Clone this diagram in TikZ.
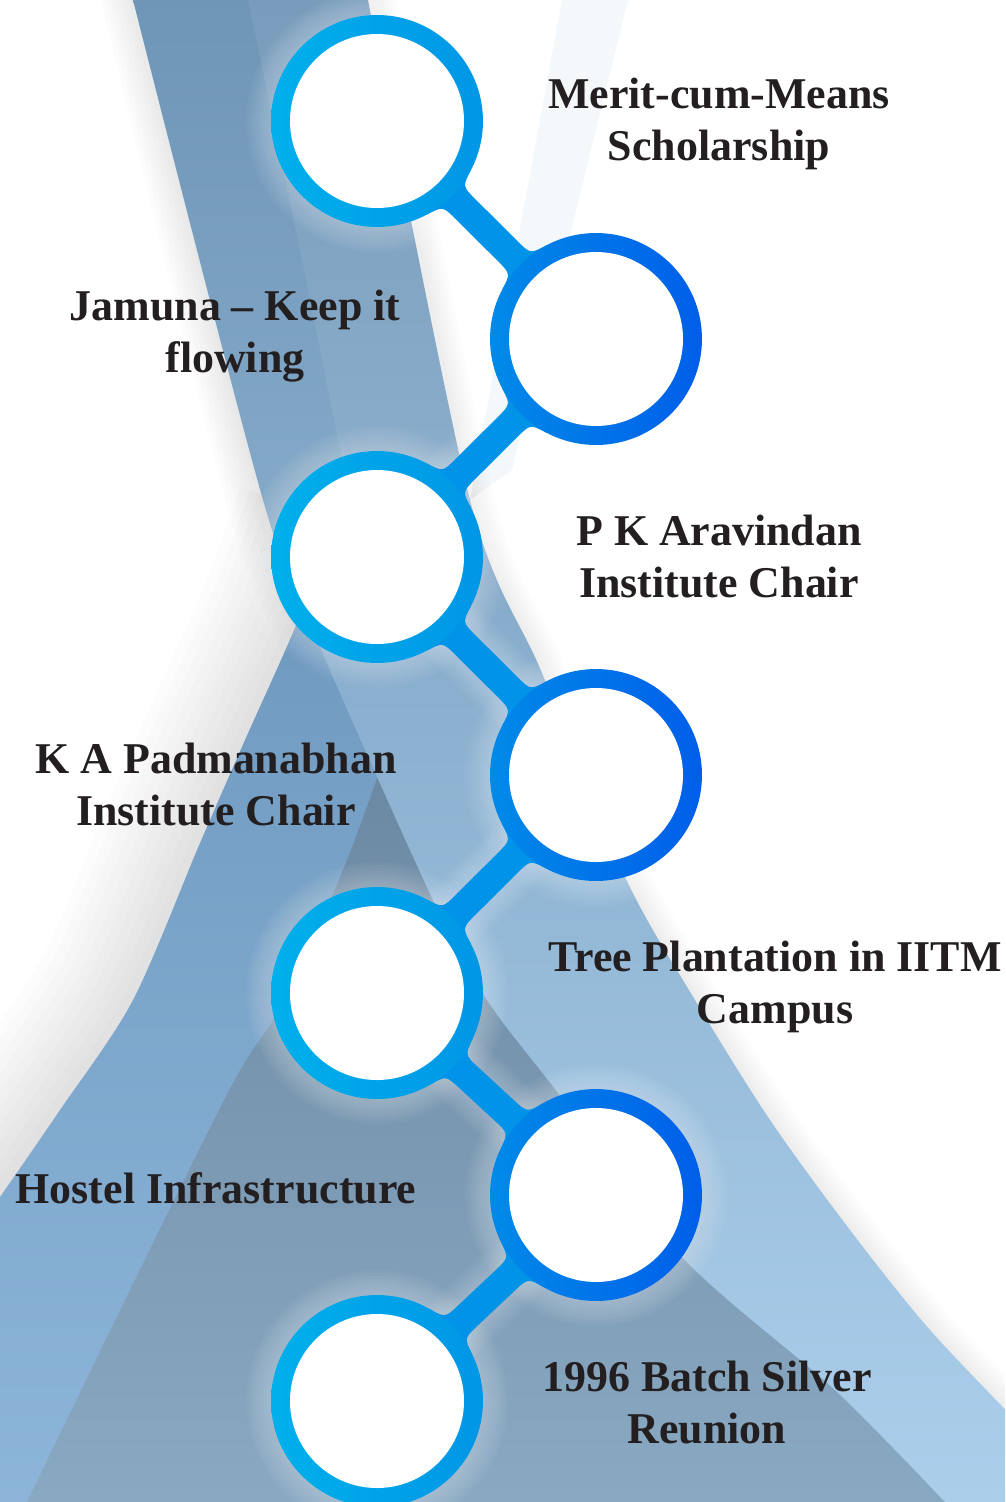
\documentclass[tikz,border=0pt]{standalone}
\usepackage{fontspec}
\setmainfont{Liberation Serif}
\usetikzlibrary{calc}

\definecolor{inktext}{HTML}{231F20}
\definecolor{bandtop}{HTML}{6F95B7}
\definecolor{bandbot}{HTML}{ABCFEB}
\definecolor{sweeptop}{HTML}{6D97BD}
\definecolor{sweepbot}{HTML}{8DB5DA}
\definecolor{wedgetop}{HTML}{6C89A3}
\definecolor{wedgebot}{HTML}{89A8C2}
\definecolor{faintblue}{HTML}{F5F8FB}
\definecolor{cyanA}{HTML}{00B0EB}
\definecolor{cyanB}{HTML}{0096E6}
\definecolor{blueA}{HTML}{008AE8}
\definecolor{blueB}{HTML}{005EE9}
\definecolor{linkblue}{HTML}{0093E7}

% bar between two rings, with rounded fillets at both ends
\newcommand{\linkbar}[2]{%
  \path let \p1=($(#2)-(#1)$) in
    \pgfextra{\pgfmathsetmacro{\barang}{atan2(\y1,\x1)}%
              \pgfmathsetmacro{\barlen}{veclen(\x1,\y1)/0.569055}%
              \global\let\barang\barang \global\let\barlen\barlen};
  \begin{scope}[shift={(#1)}, rotate=\barang]
    \fill[linkblue] (80,-45) -- (101.2,-31.6) .. controls (106.7,-14) .. (125.1,-14)
      -- ({\barlen-125.1},-14) .. controls ({\barlen-106.7},-14) .. ({\barlen-101.2},-31.6)
      -- ({\barlen-80},-45) -- ({\barlen-80},45) -- ({\barlen-101.2},31.6)
      .. controls ({\barlen-106.7},14) .. ({\barlen-125.1},14) -- (125.1,14)
      .. controls (106.7,14) .. (101.2,31.6) -- (80,45) -- cycle;
  \end{scope}}

\tikzset{
  ringL/.style={circle, minimum size=4.24cm, inner sep=0pt, left color=cyanA, right color=cyanB},
  ringR/.style={circle, minimum size=4.24cm, inner sep=0pt, left color=blueA, right color=blueB},
  itemtext/.style={align=center, anchor=base, text=inktext,
    font=\bfseries\fontsize{25}{29.6}\selectfont},
  edgeshade/.style={draw=black, opacity=0.012},
  glow/.style={fill=white, opacity=0.035}
}

\begin{document}
\begin{tikzpicture}[x=0.02cm, y=-0.02cm]

    \useasboundingbox (0,0) rectangle (1005,1502);
    \clip (0,0) rectangle (1005,1502);

    % Ring centres
    \coordinate (p1) at (377,121);
    \coordinate (p2) at (596,339);
    \coordinate (p3) at (377,557);
    \coordinate (p4) at (596,775);
    \coordinate (p5) at (377,993);
    \coordinate (p6) at (596,1195);
    \coordinate (p7) at (377,1401);

    % Faint strip, top right
    \fill[faintblue] (562,0) -- (628,0) -- (512,470) -- (470,500) -- cycle;

    % Soft shadows along the swoosh edges
    \foreach \i in {1,...,8}
        \draw[edgeshade, line width=\i*0.18cm] plot[smooth] coordinates
            {(133,-20) (263,500) (320,647) (433,900)};
    \foreach \i in {1,...,10}
        \draw[edgeshade, line width=\i*0.4cm] plot[smooth] coordinates
            {(335,520) (297,623) (245,740) (200,843) (133,1000) (60,1110) (-40,1250)};
    \foreach \i in {1,...,6}
        \draw[edgeshade, line width=\i*0.16cm] plot[smooth] coordinates
            {(368,-20) (470,500) (542,673) (625,877) (695,1000) (770,1120) (850,1230) (930,1330) (1030,1435)};

    % Left sweep
    \shade[top color=sweeptop, bottom color=sweepbot] plot[smooth] coordinates
        {(335,520) (297,623) (245,740) (200,843) (133,1000) (60,1110) (0,1197)}
        -- (0,1502) -- (1005,1502) -- (420,700) -- cycle;

    % Dark wedge
    \shade[top color=wedgetop, bottom color=wedgebot] plot[smooth] coordinates
        {(380,770) (343,870) (283,1003) (233,1083) (130,1290) (27,1502)}
        -- (1005,1502) -- cycle;

    % Main band
    \shade[top color=bandtop, bottom color=bandbot] plot[smooth] coordinates
        {(133,0) (263,500) (320,647) (433,900) (487,1000) (558,1093) (682,1257) (835,1390) (945,1502)}
        -- (1030,1502) -- plot[smooth] coordinates
        {(1030,1435) (930,1330) (850,1230) (770,1120) (695,1000) (625,877) (542,673) (470,500) (368,0)}
        -- cycle;
    \fill[white, opacity=0.07] plot[smooth] coordinates {(248,0) (300,250) (350,500)}
        -- (470,500) -- (368,0) -- cycle;

    % Glow round the chain
    \foreach \p in {p1,p2,p3,p4,p5,p6,p7}
        \foreach \r in {107,110,...,131}
            \fill[glow] (\p) circle[radius=\r];
    \foreach \a/\b in {p1/p2,p2/p3,p3/p4,p4/p5,p5/p6,p6/p7}
        \foreach \i in {1,...,8}
            \draw[white, opacity=0.03, line width=0.6cm+\i*0.1cm] (\a) -- (\b);

    % Links
    \foreach \a/\b in {p1/p2,p2/p3,p3/p4,p4/p5,p5/p6,p6/p7}
        \linkbar{\a}{\b};

    % Rings
    \node[ringL] (c1) at (p1) {};
    \node[ringR] (c2) at (p2) {};
    \node[ringL] (c3) at (p3) {};
    \node[ringR] (c4) at (p4) {};
    \node[ringL] (c5) at (p5) {};
    \node[ringR] (c6) at (p6) {};
    \node[ringL] (c7) at (p7) {};
    \foreach \c in {c1,c2,c3,c4,c5,c6,c7}
        \fill[white] (\c.center) circle[radius=87];

    % Labels (anchored on the last line)
    \node[itemtext] (t1) at (719,160) {Merit-cum-Means\\Scholarship};
    \node[itemtext] (t2) at (235,372) {Jamuna – Keep it\\flowing};
    \node[itemtext] (t3) at (719,597) {P K Aravindan\\Institute Chair};
    \node[itemtext] (t4) at (216,825) {K A Padmanabhan\\Institute Chair};
    \node[itemtext] (t5) at (775,1023) {Tree Plantation in IITM\\Campus};
    \node[itemtext] (t6) at (216,1203) {Hostel Infrastructure};
    \node[itemtext] (t7) at (707,1443) {1996 Batch Silver\\Reunion};

\end{tikzpicture}
\end{document}
